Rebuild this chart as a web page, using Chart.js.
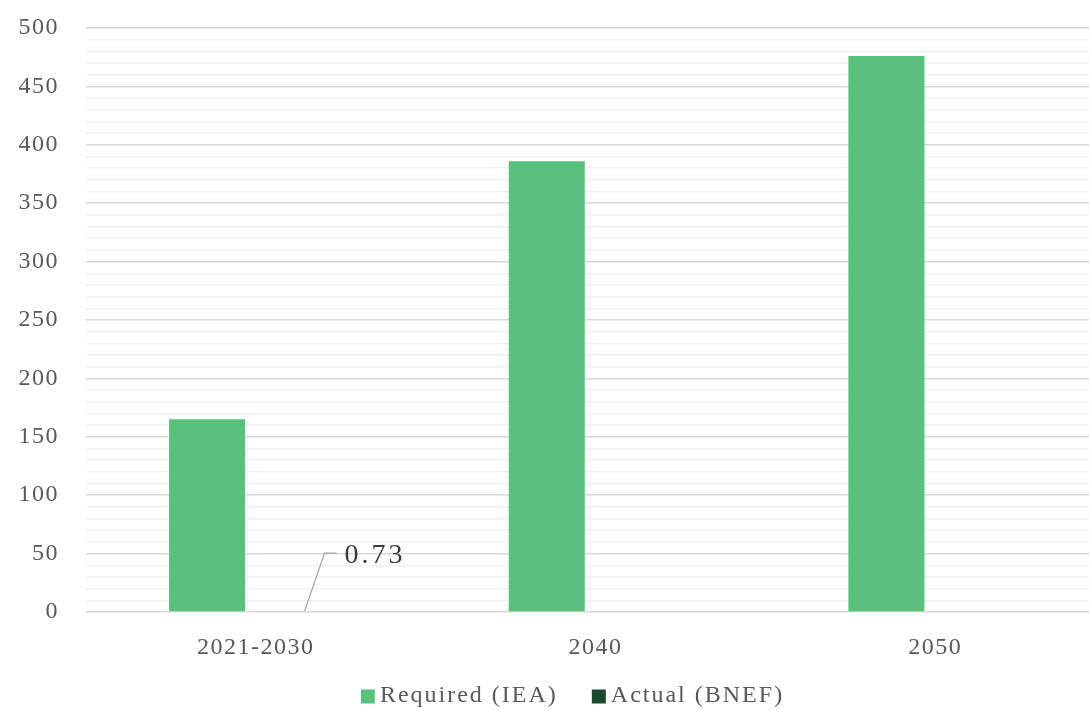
<!DOCTYPE html>
<html>
<head>
<meta charset="utf-8">
<script src="https://cdn.jsdelivr.net/npm/chart.js@4/dist/chart.umd.min.js"></script>
<style>
  html, body { margin: 0; padding: 0; background: #fff; overflow: hidden; }
  #wrap { position: relative; width: 1105px; height: 710px; }
</style>
</head>
<body>
<div id="wrap"><canvas id="c"></canvas></div>
<script>
// Investment periods and the two series compared
const categories = ['2021-2030', '2040', '2050'];
const requiredIEA = [165, 386, 476];
const actualBNEF = [0.73, null, null];
const seriesNames = ['Required (IEA)', 'Actual (BNEF)'];

const GREEN = '#58c17c';
const DARK = '#1a4a2a';
const TEXT = '#595959';
const SERIF = '"Liberation Serif", "DejaVu Serif", serif';
const TRACKING = '1.5px';
const LEGEND_H = 59;

// Letter spacing on the canvas context for the spaced-out serif text;
// re-applied because resizing the canvas resets the context state
const spacing = {
  id: 'spacing',
  beforeInit(chart) { chart.ctx.letterSpacing = TRACKING; },
  beforeUpdate(chart) { chart.ctx.letterSpacing = TRACKING; },
  beforeLayout(chart) { chart.ctx.letterSpacing = TRACKING; },
  beforeDraw(chart) { chart.ctx.letterSpacing = TRACKING; }
};

// Bottom legend: square swatch, short gap, label; entries from the datasets
const bottomLegend = {
  id: 'bottomLegend',
  afterDraw(chart) {
    const ctx = chart.ctx;
    const box = 14, textGap = 5, itemGap = 34;
    ctx.save();
    ctx.font = '24px ' + SERIF;
    ctx.letterSpacing = '2px';
    const items = chart.data.datasets.map(ds => ({
      label: ds.label, color: ds.backgroundColor,
      w: box + textGap + ctx.measureText(ds.label).width
    }));
    const total = items.reduce((s, it) => s + it.w, 0) + itemGap * (items.length - 1);
    const cy = chart.height - LEGEND_H / 2 + 15;
    let x = chart.width / 2 + 20 - total / 2;
    ctx.textAlign = 'left';
    ctx.textBaseline = 'middle';
    items.forEach(it => {
      ctx.fillStyle = it.color;
      ctx.fillRect(x, cy - box / 2 + 1, box, box);
      ctx.fillStyle = TEXT;
      ctx.fillText(it.label, x + box + textGap, cy);
      x += it.w + itemGap;
    });
    ctx.restore();
  }
};

// Callout with a leader line for the actual value
const callout = {
  id: 'callout',
  afterDatasetsDraw(chart) {
    const meta = chart.getDatasetMeta(1);
    const ctx = chart.ctx;
    meta.data.forEach((bar, i) => {
      const v = actualBNEF[i];
      if (v == null) return;
      const x0 = bar.x, y0 = bar.y;
      const x1 = x0 + 20, y1 = y0 - 58;
      ctx.save();
      ctx.strokeStyle = '#a6a6a6';
      ctx.lineWidth = 1.3;
      ctx.beginPath();
      ctx.moveTo(x0, y0);
      ctx.lineTo(x1, y1);
      ctx.lineTo(x1 + 12, y1);
      ctx.stroke();
      ctx.fillStyle = '#3a3a3a';
      ctx.font = '28px ' + SERIF;
      ctx.letterSpacing = '3px';
      ctx.textAlign = 'left';
      ctx.textBaseline = 'middle';
      ctx.fillText(v.toFixed(2), x1 + 20, y1 + 2);
      ctx.restore();
    });
  }
};

new Chart(document.getElementById('c'), {
  type: 'bar',
  data: {
    labels: categories,
    datasets: [
      { label: seriesNames[0], data: requiredIEA, backgroundColor: GREEN },
      { label: seriesNames[1], data: actualBNEF, backgroundColor: DARK }
    ]
  },
  options: {
    responsive: true,
    maintainAspectRatio: false,
    animation: false,
    layout: { padding: { top: 28, right: 0, left: 0, bottom: 0 } },
    datasets: { bar: { categoryPercentage: 0.574, barPercentage: 0.78 } },
    scales: {
      x: {
        // tick labels plus the strip that holds the legend
        afterFit(s) { s.height = 39 + LEGEND_H; },
        grid: { display: false },
        border: { display: false },
        ticks: { color: TEXT, font: { family: SERIF, size: 24 }, padding: 13 }
      },
      y: {
        min: 0, max: 500,
        afterFit(s) { s.width = 86; s.paddingTop = 0; s.paddingBottom = 0; },
        border: { display: false },
        grid: {
          drawTicks: false,
          lineWidth: 1.5,
          color: c => (c.tick && c.tick.value % 50 === 0) ? '#d9d9d9' : '#f0f0f0'
        },
        ticks: {
          stepSize: 10,
          autoSkip: false,
          padding: 27,
          color: TEXT,
          font: { family: SERIF, size: 24 },
          callback: v => (v % 50 === 0 ? String(v) : '')
        }
      }
    },
    plugins: {
      legend: { display: false },
      tooltip: { enabled: false }
    }
  },
  plugins: [spacing, callout, bottomLegend]
});
</script>
</body>
</html>
